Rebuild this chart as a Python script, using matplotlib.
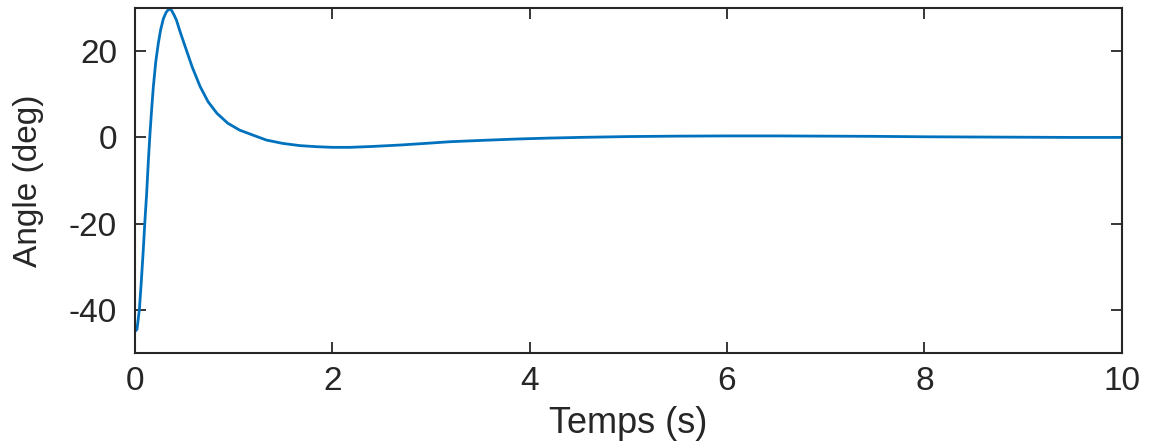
import matplotlib
matplotlib.use("Agg")
import matplotlib.pyplot as plt

# Data
time_s = [0.00, 0.02, 0.044, 0.065, 0.084, 0.10, 0.118, 0.135, 0.152, 0.17,
          0.186, 0.21, 0.236, 0.26, 0.287, 0.315, 0.344, 0.37, 0.40, 0.42,
          0.46, 0.52, 0.58, 0.66, 0.74, 0.83, 0.94, 1.06, 1.2, 1.33,
          1.5, 1.67, 1.84, 2.0, 2.18, 2.4, 2.69, 3.0, 3.19, 3.5,
          3.87, 4.2, 4.54, 5.0, 5.5, 6.0, 6.5, 7.0, 7.5, 8.0,
          8.5, 9.0, 9.5, 10.0]
angle_deg = [-45.0, -44.5, -40.0, -33.0, -26.0, -19.5, -13.0, -5.5, 1.0, 7.0,
             11.8, 17.5, 21.8, 25.0, 27.5, 29.0, 29.8, 29.5, 28.2, 27.2,
             24.3, 20.3, 16.3, 11.8, 8.3, 5.6, 3.3, 1.7, 0.5, -0.6,
             -1.4, -1.9, -2.15, -2.3, -2.3, -2.1, -1.76, -1.3, -1.0, -0.7,
             -0.37, -0.15, 0.02, 0.2, 0.3, 0.35, 0.35, 0.3, 0.25, 0.15,
             0.1, 0.05, 0.0, 0.0]
x_ticks = [0, 2, 4, 6, 8, 10]
y_ticks = [-40, -20, 0, 20]
x_label = "Temps (s)"
y_label = "Angle (deg)"

plt.rcParams['font.family'] = ['Liberation Sans', 'DejaVu Sans']
plt.rcParams['axes.unicode_minus'] = False
dark = '#262626'

fig = plt.figure(figsize=(11.51, 4.48), dpi=100)
ax = fig.add_axes([0.1173, 0.212, 0.8572, 0.770])
ax.plot(time_s, angle_deg, color='#0072BD', linewidth=2.0, clip_on=True)
ax.set_xlim(0, 10)
ax.set_ylim(-50, 30)
ax.set_xticks(x_ticks)
ax.set_yticks(y_ticks)
ax.tick_params(direction='in', length=8, width=1.3, colors=dark,
               labelsize=24, top=True, right=True, pad=9)
ax.tick_params(axis='y', pad=13)
for s in ax.spines.values():
    s.set_linewidth(1.5)
    s.set_color(dark)
ax.set_xlabel(x_label, fontsize=26, color=dark, labelpad=7)
ax.set_ylabel(y_label, fontsize=24, color=dark, labelpad=18)

fig.savefig("out.png", dpi=100)
